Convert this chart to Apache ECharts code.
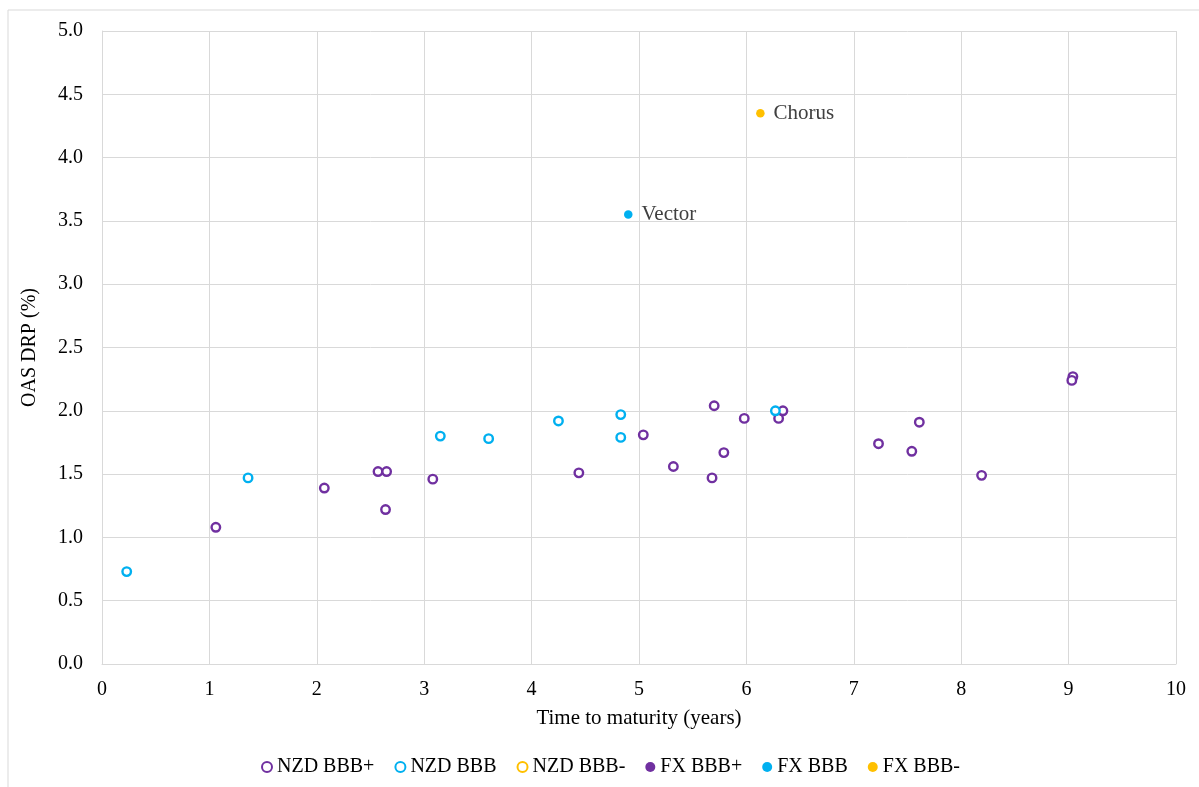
<!DOCTYPE html>
<html>
<head>
<meta charset="utf-8">
<script src="https://cdn.jsdelivr.net/npm/echarts@6/dist/echarts.min.js"></script>
<style>
html,body{margin:0;padding:0;background:#fff;}
#c{width:1199px;height:787px;}
</style>
</head>
<body>
<div id="c"></div>
<script>
var seriesNames = ['NZD BBB+', 'NZD BBB', 'NZD BBB-', 'FX BBB+', 'FX BBB', 'FX BBB-'];
var nzdBBBplus = [
  [1.06, 1.08], [2.07, 1.39], [2.57, 1.52], [2.65, 1.52], [2.64, 1.22],
  [3.08, 1.46], [4.44, 1.51], [5.04, 1.81], [5.32, 1.56], [5.70, 2.04],
  [5.68, 1.47], [5.79, 1.67], [5.98, 1.94], [6.30, 1.94], [6.34, 2.00],
  [7.23, 1.74], [7.61, 1.91], [7.54, 1.68], [8.19, 1.49], [9.04, 2.27],
  [9.03, 2.24]
];
var nzdBBB = [
  [0.23, 0.73], [1.36, 1.47], [3.15, 1.80], [3.60, 1.78], [4.25, 1.92],
  [4.83, 1.97], [4.83, 1.79], [6.27, 2.00]
];
var nzdBBBminus = [];
var fxBBBplus = [];
var fxBBB = [[4.90, 3.55, 'Vector']];
var fxBBBminus = [[6.13, 4.35, 'Chorus']];
var yTicks = ['0.0','0.5','1.0','1.5','2.0','2.5','3.0','3.5','4.0','4.5','5.0'];

var purple = '#7030A0', teal = '#00B0F0', orange = '#FFC000';
var serif = '"Liberation Serif", "Times New Roman", serif';

function hollow(name, data, col) {
  return {
    name: name, type: 'scatter', data: data, symbol: 'circle', symbolSize: 8.5,
    itemStyle: { color: '#fff', borderColor: col, borderWidth: 2.4, opacity: 1 }
  };
}
function filled(name, data, col) {
  return {
    name: name, type: 'scatter', data: data, symbol: 'circle', symbolSize: 8.5,
    itemStyle: { color: col, opacity: 1 },
    label: {
      show: true, position: 'right', distance: 9,
      formatter: function (p) { return p.data[2] || ''; },
      fontFamily: serif, fontSize: 21, color: '#404040'
    }
  };
}

var chart = echarts.init(document.getElementById('c'));
chart.setOption({
  backgroundColor: '#fff',
  animation: false,
  graphic: [{
    type: 'polyline',
    shape: { points: [[8, 800], [8, 10], [1210, 10]] },
    style: { stroke: '#d9d9d9', lineWidth: 1, fill: null }
  }],
  grid: { left: 102, right: 23, top: 31, bottom: 123, containLabel: false },
  xAxis: {
    type: 'value', min: 0, max: 10, interval: 1,
    name: 'Time to maturity (years)', nameLocation: 'middle', nameGap: 44,
    nameTextStyle: { fontFamily: serif, fontSize: 21, color: '#000' },
    axisLine: { show: true, lineStyle: { color: '#d9d9d9' } },
    axisTick: { show: false },
    axisLabel: { fontFamily: serif, fontSize: 20, color: '#000', margin: 16 },
    splitLine: { show: true, lineStyle: { color: '#d9d9d9', width: 1 } }
  },
  yAxis: {
    type: 'value', min: 0, max: 5, interval: 0.5,
    name: 'OAS DRP (%)', nameLocation: 'middle', nameGap: 62, nameRotate: 90,
    nameTextStyle: { fontFamily: serif, fontSize: 20, color: '#000' },
    axisLine: { show: true, lineStyle: { color: '#d9d9d9' } },
    axisTick: { show: false },
    axisLabel: {
      fontFamily: serif, fontSize: 20, color: '#000', margin: 19,
      formatter: function (v) { return yTicks[Math.round(v * 2)]; }
    },
    splitLine: { show: true, lineStyle: { color: '#d9d9d9', width: 1 } }
  },
  legend: {
    bottom: 5, left: 256, itemGap: 20, itemWidth: 10, itemHeight: 10,
    textStyle: { fontFamily: serif, fontSize: 20, color: '#000' },
    data: seriesNames.map(function (n) { return { name: n, icon: 'circle' }; })
  },
  series: [
    hollow('NZD BBB+', nzdBBBplus, purple),
    hollow('NZD BBB', nzdBBB, teal),
    hollow('NZD BBB-', nzdBBBminus, orange),
    filled('FX BBB+', fxBBBplus, purple),
    filled('FX BBB', fxBBB, teal),
    filled('FX BBB-', fxBBBminus, orange)
  ]
});
</script>
</body>
</html>
